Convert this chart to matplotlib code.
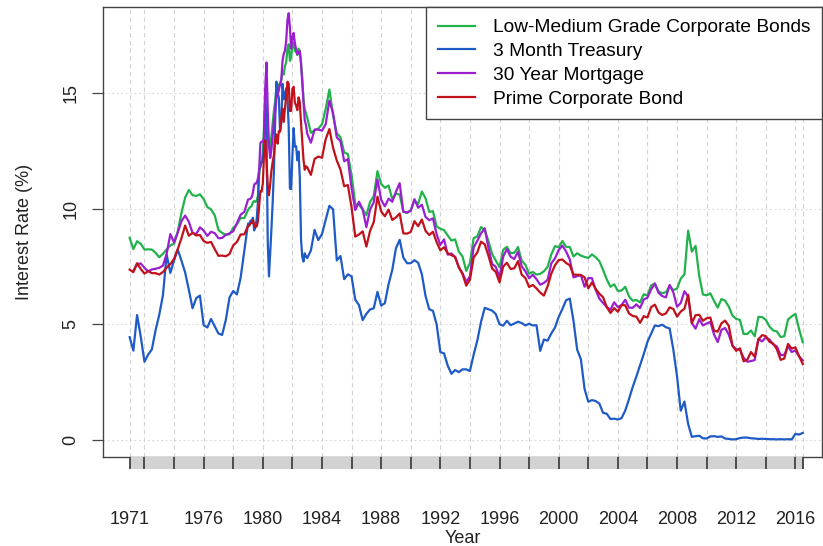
import matplotlib
matplotlib.use("Agg")
from matplotlib import pyplot as plt
import numpy as np
import pandas as pd

plt.rcParams["font.family"] = ["Liberation Sans", "DejaVu Sans"]

# Sampling grid: quarterly 1971-1978, monthly 1979-1982, quarterly 1983-2016
dates = (pd.date_range("1971-01-01", "1978-10-01", freq="QS")
         .append(pd.date_range("1979-01-01", "1982-12-01", freq="MS"))
         .append(pd.date_range("1983-01-01", "2016-07-01", freq="QS")))

# Low-medium grade (Baa) corporate bonds
baa = [
    8.74, 8.25, 8.59, 8.48,  8.23, 8.24, 8.23, 8.09,  7.90, 8.05, 8.24, 8.41,
    8.48, 9.01, 9.81, 10.48,  10.81, 10.58, 10.55, 10.62,  10.41, 10.07, 9.97, 9.71,
    9.08, 8.95, 8.87, 8.89,  9.17, 9.32, 9.60, 9.59,
    # 1979-1982 monthly
    9.94, 10.03, 10.07, 10.12, 10.28, 10.33, 10.29, 10.35, 10.54, 11.40, 11.99, 12.06,
    12.42, 13.57, 14.45, 14.19, 13.17, 12.71, 12.65, 13.15, 13.70, 14.23, 14.64, 15.14,
    15.03, 15.37, 15.34, 15.56, 15.95, 15.80, 16.17, 16.34, 16.92, 17.11, 16.39, 16.55,
    17.10, 17.18, 16.82, 16.78, 16.64, 16.92, 16.80, 16.32, 15.63, 14.73, 14.30, 14.14,
    # 1983-2016 quarterly
    13.94, 13.28, 13.39, 13.46,  13.65, 14.31, 15.15, 14.03,  13.26, 13.09, 12.43, 12.36,
    11.44, 10.19, 10.16, 9.97,  9.72, 10.29, 10.54, 11.62,  11.07, 10.90, 11.00, 10.41,
    10.65, 10.61, 9.87, 9.81,  9.94, 10.36, 10.20, 10.74,  10.45, 9.86, 9.89, 9.23,
    9.13, 9.07, 8.84, 8.62,  8.67, 8.14, 7.93, 7.31,  7.65, 8.72, 8.80, 9.20,
    9.08, 8.60, 8.04, 7.75,  7.47, 8.22, 8.35, 8.07,  8.09, 8.34, 7.75, 7.57,
    7.19, 7.26, 7.15, 7.18,  7.29, 7.48, 8.02, 8.38,  8.33, 8.60, 8.35, 8.34,
    7.93, 8.07, 7.97, 7.91,  7.87, 8.02, 7.90, 7.73,  7.35, 6.94, 6.62, 6.73,
    6.44, 6.46, 6.62, 6.21,  6.02, 6.05, 5.95, 6.30,  6.24, 6.68, 6.76, 6.42,
    6.34, 6.39, 6.65, 6.48,  6.54, 6.97, 7.16, 9.05,  8.14, 8.39, 7.09, 6.29,
    6.25, 6.34, 6.01, 5.72,  6.09, 6.02, 5.76, 5.37,  5.23, 5.19, 4.58, 4.58,
    4.73, 4.48, 5.32, 5.31,  5.19, 4.90, 4.73, 4.69,  4.45, 4.48, 5.20, 5.34,
    5.45, 4.79, 4.22,
]

# 3 month treasury bill
tbill = [
    4.44, 3.86, 5.40, 4.46,  3.38, 3.69, 3.91, 4.74,  5.41, 6.26, 8.01, 7.22,
    7.76, 8.23, 7.75, 7.24,  6.49, 5.69, 6.13, 6.24,  4.96, 4.86, 5.23, 4.92,
    4.60, 4.54, 5.19, 6.16,  6.44, 6.29, 7.01, 8.19,
    9.35, 9.32, 9.48, 9.46, 9.61, 9.06, 9.24, 9.52, 10.26, 11.70, 11.79, 12.04,
    12.00, 12.86, 15.20, 13.20, 8.58, 7.07, 8.06, 9.13, 10.27, 11.62, 13.73, 15.49,
    15.02, 14.79, 13.36, 13.69, 15.40, 14.73, 14.95, 15.20, 14.70, 13.54, 10.86, 10.85,
    12.28, 13.48, 12.68, 12.70, 12.09, 12.47, 11.35, 8.68, 7.92, 7.71, 8.07, 7.94,
    7.86, 8.19, 9.08, 8.64,  8.90, 9.52, 10.12, 9.97,  7.76, 7.95, 6.95, 7.16,
    7.07, 6.06, 5.83, 5.18,  5.45, 5.64, 5.69, 6.40,  5.81, 5.91, 6.73, 7.35,
    8.29, 8.65, 7.88, 7.64,  7.64, 7.77, 7.66, 7.17,  6.22, 5.65, 5.58, 4.99,
    3.80, 3.74, 3.21, 2.86,  3.02, 2.93, 3.05, 3.05,  2.98, 3.68, 4.30, 5.10,
    5.71, 5.65, 5.59, 5.44,  5.00, 4.94, 5.15, 4.96,  5.03, 5.11, 5.05, 4.95,
    5.02, 4.95, 4.96, 3.85,  4.34, 4.29, 4.60, 4.86,  5.32, 5.66, 6.04, 6.11,
    5.15, 3.90, 3.49, 2.20,  1.65, 1.72, 1.68, 1.57,  1.17, 1.13, 0.90, 0.92,
    0.88, 0.94, 1.27, 1.76,  2.28, 2.74, 3.22, 3.71,  4.24, 4.60, 4.95, 4.92,
    4.98, 4.87, 4.82, 3.90,  2.75, 1.26, 1.66, 0.69,  0.13, 0.16, 0.18, 0.07,
    0.06, 0.15, 0.16, 0.13,  0.15, 0.06, 0.04, 0.02,  0.03, 0.08, 0.10, 0.10,
    0.07, 0.06, 0.04, 0.05,  0.04, 0.03, 0.03, 0.02,  0.03, 0.02, 0.03, 0.02,
    0.26, 0.23, 0.30,
]

# 30 year mortgage (series starts April 1971)
mortgage = [
    np.nan, 7.31, 7.60, 7.63,  7.44, 7.29, 7.37, 7.40,  7.44, 7.54, 8.05, 8.90,
    8.54, 8.96, 9.46, 9.70,  9.43, 8.95, 8.90, 9.19,  9.05, 8.82, 9.00, 8.94,
    8.72, 8.73, 8.87, 8.93,  9.02, 9.37, 9.74, 9.86,
    10.39, 10.41, 10.43, 10.50, 10.69, 11.04, 11.09, 11.09, 11.30, 11.64, 12.83, 12.90,
    12.88, 13.04, 15.28, 16.32, 14.26, 12.71, 12.19, 12.56, 13.20, 13.79, 14.21, 14.79,
    14.90, 15.13, 15.40, 15.58, 16.40, 16.70, 16.83, 17.29, 18.16, 18.45, 17.83, 16.92,
    17.40, 17.60, 17.16, 16.89, 16.68, 16.70, 16.82, 16.27, 15.43, 14.61, 13.83, 13.62,
    13.25, 12.85, 13.42, 13.42,  13.37, 13.65, 14.67, 14.13,  13.08, 12.92, 12.05, 12.14,
    10.88, 9.94, 10.30, 9.97,  9.20, 9.96, 10.28, 11.26,  10.38, 10.10, 10.43, 10.30,
    10.73, 11.10, 9.86, 9.84,  9.90, 10.41, 10.04, 10.17,  9.64, 9.50, 9.58, 8.89,
    8.43, 8.67, 8.01, 8.06,  7.91, 7.46, 7.21, 6.83,  7.07, 8.32, 8.61, 8.93,
    9.15, 8.32, 7.61, 7.48,  7.03, 7.93, 8.25, 7.92,  7.82, 8.14, 7.50, 7.29,
    6.99, 7.14, 6.95, 6.71,  6.79, 6.92, 7.63, 7.85,  8.21, 8.40, 8.15, 7.80,
    7.03, 7.08, 7.13, 6.62,  7.00, 6.99, 6.49, 6.11,  5.92, 5.75, 5.63, 5.95,
    5.74, 5.83, 6.06, 5.72,  5.71, 5.86, 5.70, 6.07,  6.15, 6.51, 6.76, 6.36,
    6.22, 6.16, 6.70, 6.38,  5.76, 5.92, 6.43, 6.20,  5.06, 4.81, 5.22, 4.95,
    5.03, 5.10, 4.56, 4.23,  4.76, 4.84, 4.55, 4.07,  3.92, 3.91, 3.55, 3.38,
    3.41, 3.45, 4.37, 4.26,  4.43, 4.34, 4.13, 4.04,  3.67, 3.67, 4.05, 3.80,
    3.87, 3.61, 3.44,
]

# Prime (Aaa) corporate bond
aaa = [
    7.36, 7.25, 7.64, 7.39,  7.19, 7.30, 7.21, 7.21,  7.15, 7.26, 7.45, 7.60,
    7.83, 8.25, 8.72, 9.27,  8.83, 8.95, 8.84, 8.86,  8.60, 8.52, 8.56, 8.25,
    7.96, 7.97, 7.94, 8.04,  8.41, 8.56, 8.88, 8.89,
    9.25, 9.26, 9.37, 9.38, 9.50, 9.29, 9.20, 9.23, 9.44, 10.13, 10.76, 10.74,
    11.09, 12.38, 12.96, 12.04, 10.99, 10.58, 11.07, 11.64, 12.02, 12.31, 12.97, 13.21,
    12.81, 13.35, 13.33, 13.88, 14.32, 13.75, 14.38, 14.89, 15.49, 15.40, 14.22, 14.23,
    15.18, 15.27, 14.58, 14.46, 14.26, 14.81, 14.61, 13.71, 12.94, 12.12, 11.68, 11.83,
    11.79, 11.46, 12.15, 12.25,  12.20, 13.00, 13.44, 12.63,  12.08, 11.69, 10.97, 11.02,
    10.05, 8.79, 8.88, 9.02,  8.36, 9.04, 9.42, 10.52,  9.88, 9.67, 9.96, 9.51,
    9.62, 9.79, 8.93, 8.92,  8.99, 9.46, 9.24, 9.53,  9.04, 8.86, 9.00, 8.55,
    8.20, 8.33, 8.07, 7.99,  7.91, 7.46, 7.17, 6.67,  6.92, 7.88, 8.11, 8.57,
    8.46, 7.97, 7.41, 7.26,  6.81, 7.50, 7.66, 7.39,  7.42, 7.73, 7.14, 7.00,
    6.61, 6.70, 6.55, 6.37,  6.24, 6.64, 7.19, 7.55,  7.78, 7.80, 7.65, 7.55,
    7.15, 7.14, 7.13, 7.03,  6.55, 6.81, 6.53, 6.32,  6.17, 5.74, 5.49, 5.70,
    5.54, 5.83, 5.82, 5.47,  5.36, 5.33, 5.06, 5.35,  5.29, 5.74, 5.85, 5.51,
    5.40, 5.47, 5.73, 5.66,  5.33, 5.55, 5.67, 6.28,  5.05, 5.39, 5.41, 5.15,
    5.26, 5.29, 4.72, 4.68,  5.04, 5.16, 4.93, 4.07,  3.85, 3.96, 3.40, 3.47,
    3.80, 3.59, 4.34, 4.53,  4.49, 4.24, 4.16, 3.92,  3.46, 3.52, 4.15, 3.95,
    4.00, 3.62, 3.28,
]

series = [
    ("Low-Medium Grade Corporate Bonds", baa, "#22b24c"),
    ("3 Month Treasury", tbill, "#1f5bc6"),
    ("30 Year Mortgage", mortgage, "#9b1fd1"),
    ("Prime Corporate Bond", aaa, "#c1121c"),
]

year_labels = [1971, 1976, 1980, 1984, 1988, 1992, 1996, 2000, 2004, 2008, 2012, 2016]

years = np.asarray(dates.year + (dates.month - 1) / 12.0)
start, end = years[0], years[-1]
minor_years = [start] + list(range(1972, 2017, 2)) + [end]

fig = plt.figure(figsize=(8.23, 5.46), dpi=100)
ax = fig.add_axes([0.1252, 0.1630, 0.8736, 0.8242])
XLIM = (1969.2, 2017.8)
YLIM = (-0.74, 18.72)

for y in [0, 5, 10, 15]:
    ax.axhline(y, color="#d9d9d9", lw=0.8, ls=(0, (1.5, 2.5)), zorder=1)
for x in minor_years:
    ax.axvline(x, color="#d3d3d3", lw=0.8, ls=(0, (4, 3)), zorder=1)

for label, vals, col in series:
    ax.plot(years, vals, color=col, lw=1.6, label=label, zorder=3)

ax.set_xlim(*XLIM)
ax.set_ylim(*YLIM)
ax.set_yticks([0, 5, 10, 15])
ax.set_yticklabels(["0", "5", "10", "15"], rotation=90, va="center")
ax.tick_params(axis="y", length=8, width=0.9, color="#444444", labelsize=13,
               pad=9, labelcolor="#222222")
ax.set_xticks(year_labels)
ax.set_xticklabels([str(y) for y in year_labels])
ax.tick_params(axis="x", length=0, pad=39, labelsize=13, labelcolor="#222222")
ax.set_ylabel("Interest Rate (%)", fontsize=13, color="#222222", labelpad=21)
ax.set_xlabel("Year", fontsize=13, color="#222222", labelpad=1)
for s in ax.spines.values():
    s.set_color("#444444")
    s.set_linewidth(1.0)

leg = ax.legend(loc="upper right", bbox_to_anchor=(1.0, 1.0), borderaxespad=0,
                fontsize=13.8, frameon=True, fancybox=False, framealpha=1,
                edgecolor="#444444", handlelength=1.95, handletextpad=0.9,
                labelspacing=0.33, borderpad=0.62)
leg.get_frame().set_linewidth(1.0)

# Shaded time bar under the plot
bar = fig.add_axes([0.1252, 1 - 469 / 546, 0.8736, 12 / 546])
bar.set_xlim(*XLIM)
bar.set_ylim(0, 1)
bar.axvspan(start, end, color="#d2d2d2", lw=0)
for x in minor_years:
    bar.axvline(x, color="#4d4d4d", lw=1.4)
bar.axis("off")

fig.savefig("out.png", dpi=100)
